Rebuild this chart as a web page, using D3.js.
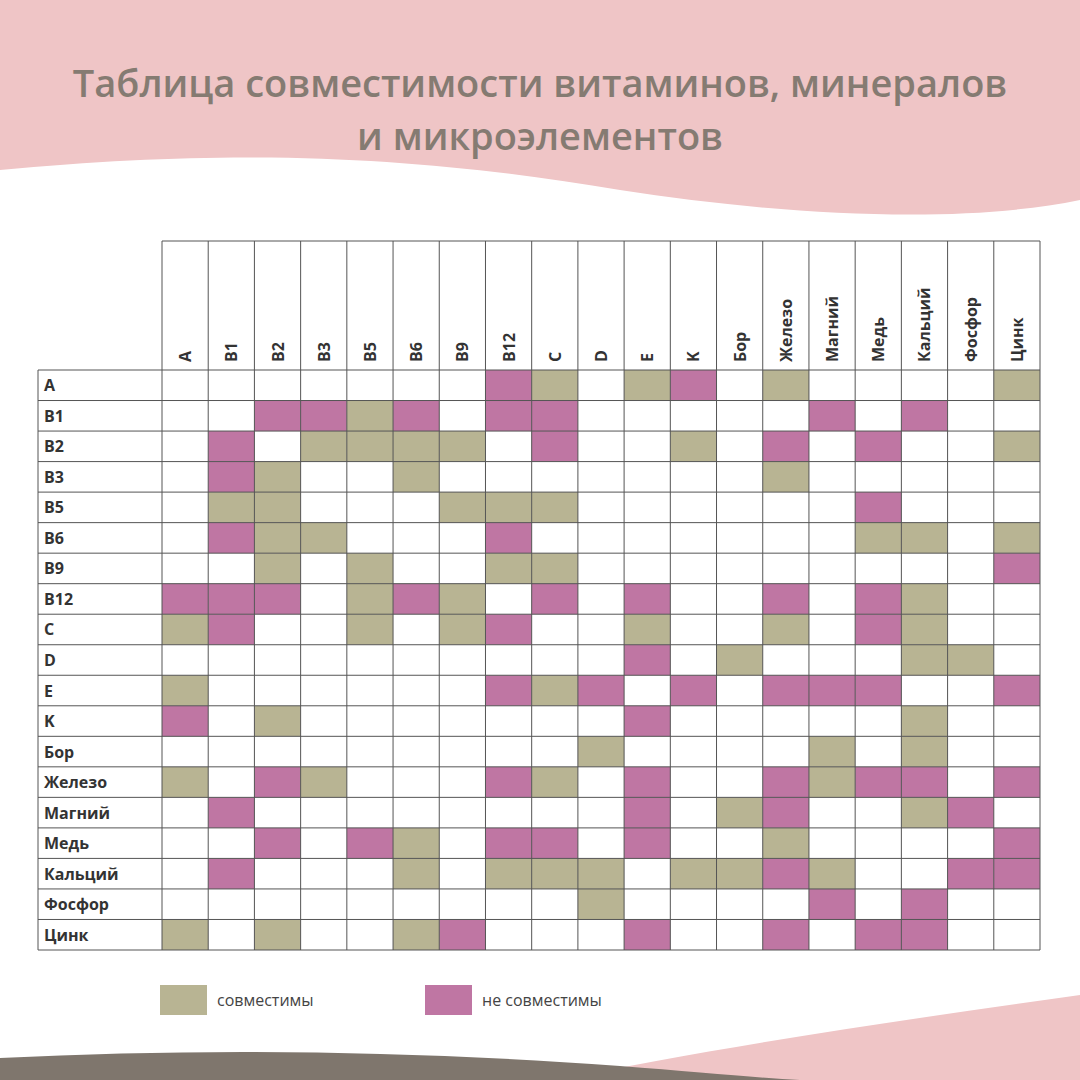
<!DOCTYPE html><html><head><meta charset="utf-8"><script src="https://cdn.jsdelivr.net/npm/d3@7"></script>
<style>body{margin:0}svg{display:block}</style></head><body><svg id="c" width="1080" height="1080"></svg><script>
const categories=["A","B1","B2","B3","B5","B6","B9","B12","C","D","E","K","Бор","Железо","Магний","Медь","Кальций","Фосфор","Цинк"];
// g = совместимы, r = не совместимы, . = empty (columns in category order)
const cellRows=[
".......rg.gr.g....g",
"..rrgr.rr.....r.r..",
".r.gggg.r..g.r.r..g",
".rg..g.......g.....",
".gg...ggg......r...",
".rgg...r.......gg.g",
"..g.g..gg.........r",
"rrr.grg.r.r..r.rg..",
"gr..g.gr..g..g.rg..",
"..........r.g...gg.",
"g......rgr.r.rrr..r",
"r.g.......r.....g..",
".........g....g.g..",
"g.rg...rg.r..rgrr.r",
".r........r.gr..gr.",
"..r.rg.rr.r..g....r",
".r...g.ggg.ggrg..rr",
".........g....r.r..",
"g.g..gr...r..r.rr.."
];
const legendLabels=["совместимы","не совместимы"];
const colors={g:"#b8b493",r:"#bf76a3"};
const svg=d3.select("#c");
svg.append("rect").attr("width",1080).attr("height",1080).attr("fill","#fff");
svg.append("path").attr("d","M0,0H1080V200C960,225 780,215 620,190C440,160 260,145 0,170Z").attr("fill","#efc5c6");
svg.append("path").attr("d","M560,1080C700,1050 900,1020 1080,995V1080Z").attr("fill","#efc5c6");
svg.append("path").attr("d","M0,1080V1058C200,1048 400,1050 620,1066C700,1072 760,1078 800,1080Z").attr("fill","#7f766d");
svg.append("text").attr("x",540).attr("y",97).attr("text-anchor","middle").attr("font-family","Open Sans").attr("font-weight",600).attr("font-size",38).attr("fill","#857b72").text("Таблица совместимости витаминов, минералов");
svg.append("text").attr("x",540).attr("y",150).attr("text-anchor","middle").attr("font-family","Open Sans").attr("font-weight",600).attr("font-size",38).attr("fill","#857b72").text("и микроэлементов");
const x=d3.scaleBand().domain(categories).range([162,1040]);
const y=d3.scaleBand().domain(categories).range([370,950]);
const g=svg.append("g");
cellRows.forEach((s,i)=>{[...s].forEach((c,j)=>{if(c!==".")g.append("rect").attr("x",x(categories[j])).attr("y",y(categories[i])).attr("width",x.bandwidth()).attr("height",y.bandwidth()).attr("fill",colors[c]);});});
const st="#555";
categories.forEach(c=>{
 g.append("line").attr("x1",x(c)).attr("x2",x(c)).attr("y1",241).attr("y2",950).attr("stroke",st);
 g.append("line").attr("x1",38).attr("x2",1040).attr("y1",y(c)).attr("y2",y(c)).attr("stroke",st);
 g.append("text").attr("x",44).attr("y",y(c)+y.bandwidth()/2+6).attr("font-family","Open Sans").attr("font-weight",700).attr("font-size",16).attr("fill","#333").text(c);
 g.append("text").attr("transform",`translate(${x(c)+x.bandwidth()/2+6},362) rotate(-90)`).attr("font-family","Open Sans").attr("font-weight",700).attr("font-size",16).attr("fill","#333").text(c);
});
g.append("line").attr("x1",1040).attr("x2",1040).attr("y1",241).attr("y2",950).attr("stroke",st);
g.append("line").attr("x1",162).attr("x2",1040).attr("y1",241).attr("y2",241).attr("stroke",st);
g.append("line").attr("x1",38).attr("x2",1040).attr("y1",950).attr("y2",950).attr("stroke",st);
g.append("line").attr("x1",38).attr("x2",38).attr("y1",370).attr("y2",950).attr("stroke",st);
[["g",160,217],["r",425,482]].forEach(([k,bx,tx],i)=>{
 svg.append("rect").attr("x",bx).attr("y",985).attr("width",47).attr("height",30).attr("fill",colors[k]);
 svg.append("text").attr("x",tx).attr("y",1006).attr("font-family","Open Sans").attr("font-size",16).attr("fill","#444").text(legendLabels[i]);
});
</script></body></html>
